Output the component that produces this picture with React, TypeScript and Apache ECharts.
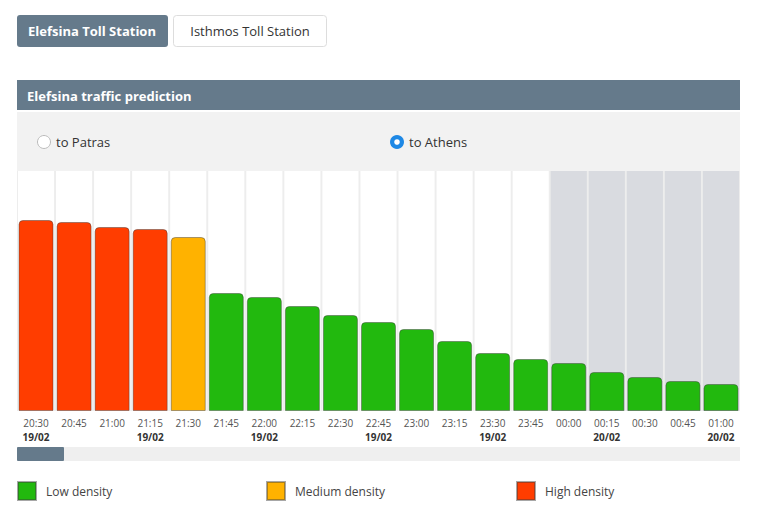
import React, { useEffect, useRef } from "react";
import * as echarts from "echarts";

const times = ["20:30","20:45","21:00","21:15","21:30","21:45","22:00","22:15","22:30","22:45","23:00","23:15","23:30","23:45","00:00","00:15","00:30","00:45","01:00"];
const dates = ["19/02","","","19/02","","","19/02","","","19/02","","","19/02","","","20/02","","","20/02"];
const traffic = [191,189,184,182,174,118,114,105,96,89,82,70,58,52,48,39,34,30,27];
const density = ["high","high","high","high","medium","low","low","low","low","low","low","low","low","low","low","low","low","low","low"];
const futureFrom = 14;
const legendNames = ["Low density","Medium density","High density"];
const legendKeys = ["low","medium","high"];
const colors = { low: "#22b90e", medium: "#ffb200", high: "#ff3d00" };

const FONT = "'Open Sans', 'Noto Sans', sans-serif";
const SLATE = "#657a8b";

export default function App() {
  const ref = useRef<HTMLDivElement>(null);
  useEffect(() => {
    const chart = echarts.init(ref.current!, null, { renderer: "svg" });
    const yMax = 240;
    const dataSeries = legendKeys.map((k, i) => ({
      name: legendNames[i],
      type: "bar",
      xAxisIndex: 0,
      yAxisIndex: 0,
      barGap: "-100%",
      barCategoryGap: "8%",
      z: 3,
      itemStyle: {
        color: (colors as any)[k],
        borderColor: "rgba(60,60,60,0.45)",
        borderWidth: 1,
        borderRadius: [4, 4, 0, 0],
      },
      data: traffic.map((v, j) => (density[j] === k ? v : "-")),
    }));
    const legendLefts = [17, 266, 516];
    chart.setOption({
      animation: false,
      textStyle: { fontFamily: FONT },
      grid: {
        left: 17, right: 30, top: 171, bottom: 108,
        show: true, backgroundColor: "#ededed", borderWidth: 0,
      },
      xAxis: [
        {
          type: "category",
          data: times,
          axisLine: { show: false },
          axisTick: { show: false },
          axisLabel: {
            interval: 0,
            margin: 5,
            formatter: (val: string, idx: number) =>
              dates[idx] ? `{t|${val}}\n{d|${dates[idx]}}` : `{t|${val}}`,
            rich: {
              t: { fontSize: 10, color: "#555", fontFamily: FONT, lineHeight: 14 },
              d: { fontSize: 10, color: "#333", fontWeight: "bold", fontFamily: FONT, lineHeight: 13 },
            },
          },
        },
        {
          type: "category",
          data: times,
          show: false,
        },
      ],
      yAxis: [{ type: "value", min: 0, max: yMax, show: false }],
      legend: legendNames.map((n, i) => ({
        left: legendLefts[i],
        top: 481,
        padding: 0,
        itemWidth: 18,
        itemHeight: 18,
        icon: "rect",
        data: [n],
        textStyle: { fontSize: 12, color: "#444", padding: [0, 0, 0, 5], fontFamily: FONT },
      })),
      series: [
        {
          name: "bg",
          type: "bar",
          xAxisIndex: 1,
          yAxisIndex: 0,
          barCategoryGap: "5%",
          silent: true,
          z: 1,
          data: times.map((_, j) => ({
            value: yMax,
            itemStyle: { color: j >= futureFrom ? "#d9dbe0" : "#ffffff" },
          })),
        },
        ...dataSeries,
      ],
      graphic: [
        { type: "rect", shape: { x: 17, y: 15, width: 151, height: 32, r: 3 }, style: { fill: SLATE } },
        { type: "text", x: 92, y: 31, style: { text: "Elefsina Toll Station", fill: "#ffffff", font: `bold 13px ${FONT}`, textAlign: "center", textVerticalAlign: "middle" } },
        { type: "rect", shape: { x: 173.5, y: 15.5, width: 153, height: 31, r: 3 }, style: { fill: "#ffffff", stroke: "#dddddd", lineWidth: 1 } },
        { type: "text", x: 250, y: 31, style: { text: "Isthmos Toll Station", fill: "#333333", font: `13px ${FONT}`, textAlign: "center", textVerticalAlign: "middle" } },
        { type: "rect", shape: { x: 17, y: 80, width: 723, height: 30 }, style: { fill: SLATE } },
        { type: "text", x: 27, y: 96, style: { text: "Elefsina traffic prediction", fill: "#ffffff", font: `bold 13px ${FONT}`, textVerticalAlign: "middle" } },
        { type: "rect", shape: { x: 17, y: 112, width: 723, height: 59 }, style: { fill: "#f2f2f2" } },
        { type: "circle", shape: { cx: 44, cy: 142, r: 6.5 }, style: { fill: "#ffffff", stroke: "#bbbbbb", lineWidth: 1 } },
        { type: "text", x: 56, y: 142, style: { text: "to Patras", fill: "#333333", font: `13px ${FONT}`, textVerticalAlign: "middle" } },
        { type: "circle", shape: { cx: 397, cy: 142, r: 7 }, style: { fill: "#1e88e5" } },
        { type: "circle", shape: { cx: 397, cy: 142, r: 2.8 }, style: { fill: "#ffffff" } },
        { type: "text", x: 409, y: 142, style: { text: "to Athens", fill: "#333333", font: `13px ${FONT}`, textVerticalAlign: "middle" } },
        { type: "rect", shape: { x: 17, y: 447, width: 723, height: 14 }, style: { fill: "#efefef" } },
        { type: "rect", shape: { x: 17, y: 447, width: 47, height: 14, r: 1 }, style: { fill: SLATE } },
      ],
    });
    return () => chart.dispose();
  }, []);
  return (
    <div
      ref={ref}
      style={{ position: "absolute", left: 0, top: 0, width: 770, height: 519, background: "#ffffff" }}
    />
  );
}
